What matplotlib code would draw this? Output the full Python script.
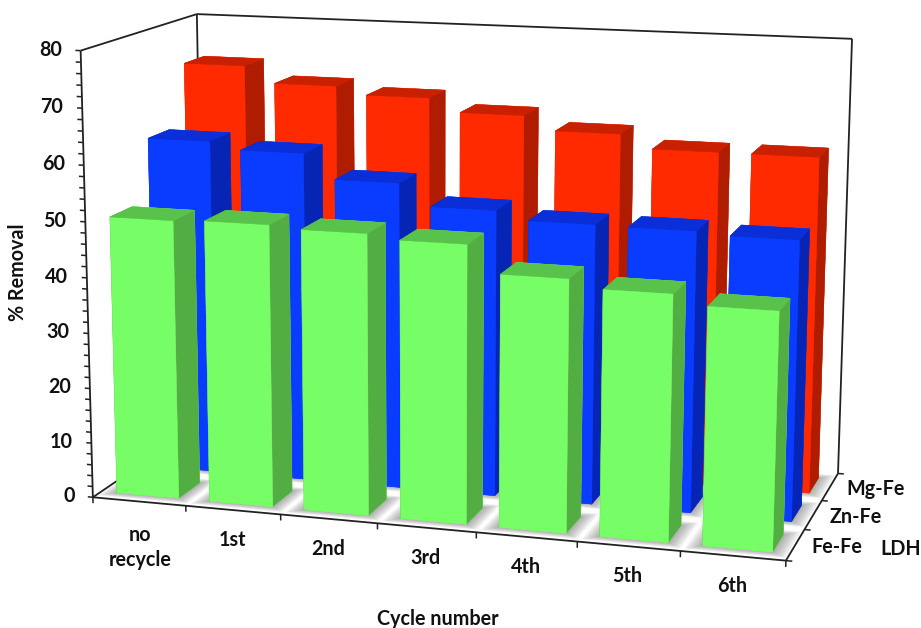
import numpy as np
import matplotlib
matplotlib.use("Agg")
import matplotlib.pyplot as plt
from mpl_toolkits.mplot3d.art3d import Poly3DCollection, Line3DCollection

# Recycling performance of three layered double hydroxides
cycles = ["no\nrecycle", "1st", "2nd", "3rd", "4th", "5th", "6th"]
ldh_names = ["Fe-Fe", "Zn-Fe", "Mg-Fe"]
fe_fe = [50.3, 50.6, 50.1, 49.3, 44.5, 43, 41.3]
zn_fe = [61.4, 60.1, 55.7, 51.8, 50.3, 50.2, 49.7]
mg_fe = [72.6, 69.6, 68.2, 65.8, 63.3, 60.9, 60.9]
value_ticks = list(range(0, 81, 10))

W, H = 921, 628
BAR_INSET_X = 0.165
BAR_INSET_Y = 0.22
ZMAX = 80

plt.rcParams["font.family"] = ["Lato", "DejaVu Sans"]
plt.rcParams["font.weight"] = "bold"

fig = plt.figure(figsize=(W / 100, H / 100), dpi=100)
ax = fig.add_axes([0, 0, 1, 1], projection="3d")
ax.set_axis_off()
ax.computed_zorder = False

# Perspective camera calibrated on the box corners and tick positions
NX, NY = len(cycles), len(ldh_names)
world = np.array([
    (0, 0, 0), (0, 0, ZMAX), (0, NY, ZMAX), (0, NY, 0),
    (NX, NY, ZMAX), (NX, NY, 0), (NX, 0, 0),
    (1, 0, 0), (2, 0, 0), (NX, 1, 0), (NX, 2, 0),
    (0, 0, 50), (0, 0, 30),
], float)
pixels = np.array([
    (94, 496), (80, 51), (198, 14), (203, 423),
    (852, 39), (837, 472), (784, 562),
    (186, 506), (281, 515), (806, 530), (823, 500),
    (84, 222), (89, 332),
], float)


def solve_camera(pts, uv):
    rows = []
    for (x, y, z), (u, v) in zip(pts, uv):
        rows.append([x, y, z, 1, 0, 0, 0, 0, -u * x, -u * y, -u * z, -u])
        rows.append([0, 0, 0, 0, x, y, z, 1, -v * x, -v * y, -v * z, -v])
    rows = np.array(rows)
    scale = np.abs(rows).max(axis=0)
    _, _, vt = np.linalg.svd(rows / scale)
    cam = (vt[-1] / scale).reshape(3, 4)
    depth = cam[2] @ np.array([NX / 2, NY / 2, ZMAX / 2, 1.0])
    return cam / depth


camera = solve_camera(world, pixels)


def camera_projection():
    to_view = ax.transData.inverted().get_matrix() @ np.array(
        [[1, 0, 0], [0, -1, H], [0, 0, 1]], float)
    proj = to_view @ camera
    depth_row = camera[2].copy()
    depth_row[3] -= 0.3
    return np.array([proj[0], proj[1], depth_row, proj[2]])


ax.get_proj = camera_projection
ax.apply_aspect = lambda position=None: None


def to_pixels(x, y, z):
    u, v, w = camera @ np.array([x, y, z, 1.0])
    return u / w, v / w


def label_at(u, v, text, **kwargs):
    style = dict(fontsize=14.2, fontweight="bold", color="#111111", ha="center", va="center")
    style.update(kwargs)
    fig.text(u / W, 1 - v / H, text, **style)


def add_lines(segments, zorder, lw=1.3):
    ax.add_collection3d(Line3DCollection(segments, colors="#222222", linewidths=lw,
                                         zorder=zorder))


# Floor and the soft shadow around each bar foot
floor = Poly3DCollection([[(0, 0, 0), (NX, 0, 0), (NX, NY, 0), (0, NY, 0)]],
                         facecolor="#ffffff", edgecolor="none", zorder=0.5)
ax.add_collection3d(floor)
shadow_quads = []
for j in range(NY):
    for i in range(NX):
        for grow in (0.14, 0.115, 0.09, 0.065, 0.04, 0.02):
            x0 = max(i + BAR_INSET_X - grow, 0)
            x1 = min(i + 1 - BAR_INSET_X + grow, NX)
            y0 = max(j + BAR_INSET_Y - grow, 0)
            y1 = min(j + 1 - BAR_INSET_Y + grow, NY)
            shadow_quads.append([(x0, y0, 0), (x1, y0, 0), (x1, y1, 0), (x0, y1, 0)])
ax.add_collection3d(Poly3DCollection(shadow_quads, facecolor=(0.45, 0.45, 0.45, 0.12),
                                     edgecolor="none", zorder=0.6))

# Box outline behind the bars
add_lines([
    [(0, 0, 0), (0, NY, 0)],
    [(0, 0, ZMAX), (0, NY, ZMAX)],
    [(0, NY, 0), (0, NY, ZMAX)],
    [(0, NY, ZMAX), (NX, NY, ZMAX)],
    [(NX, NY, ZMAX), (NX, NY, 0)],
    [(NX, NY, 0), (NX, 0, 0)],
    [(0, 0, 0), (NX, 0, 0)],
    [(0, 0, 0), (0, 0, ZMAX)],
], 0.8)

# Ticks
tick_segments = [[(0, 0, v), (-0.055, 0, v)] for v in range(0, ZMAX + 1, 2)]
tick_segments += [[(i, 0, 0), (i, 0, -1.1)] for i in range(NX + 1)]
tick_segments += [[(NX, j, 0), (NX + 0.06, j, 0)] for j in range(NY + 1)]
add_lines(tick_segments, 0.8, lw=1.1)

# Bars, painted back to front and left to right
series = [
    (mg_fe, ("#FF2A00", "#C92000", "#B01C00")),
    (zn_fe, ("#0A3CFF", "#0A2FD8", "#0725B4")),
    (fe_fe, ("#77FD66", "#58C24A", "#52AE42")),
]
order = 2.0
for row, (values, (front, top, side)) in zip(range(NY - 1, -1, -1), series):
    for i, v in enumerate(values):
        faces = [front, top, front, front, side, side]
        ax.bar3d(i + BAR_INSET_X, row + BAR_INSET_Y, 0,
                 1 - 2 * BAR_INSET_X, 1 - 2 * BAR_INSET_Y, v,
                 color=faces, edgecolors=faces, linewidth=0.3, shade=False, zorder=order)
        order += 1

# Tick labels
for v in value_ticks:
    u, t = to_pixels(-0.2, 0, v)
    label_at(u, t, str(v), ha="right")
for i, label in enumerate(cycles):
    u, t = to_pixels(i + 0.5, 0, 0)
    label_at(u + (1 if "\n" in label else -1), t + 30 + 16 * label.count("\n"), label,
             linespacing=1.3)
for j, label in enumerate(ldh_names):
    u, t = to_pixels(NX, j + 0.5, 0)
    label_at(u + 16, t + 2, label, ha="left")

# Axis titles
label_at(18, 272, "% Removal", rotation=90)
label_at(438, 619, "Cycle number")
label_at(901, 549, "LDH")

fig.savefig("out.png", dpi=100, facecolor="white")
